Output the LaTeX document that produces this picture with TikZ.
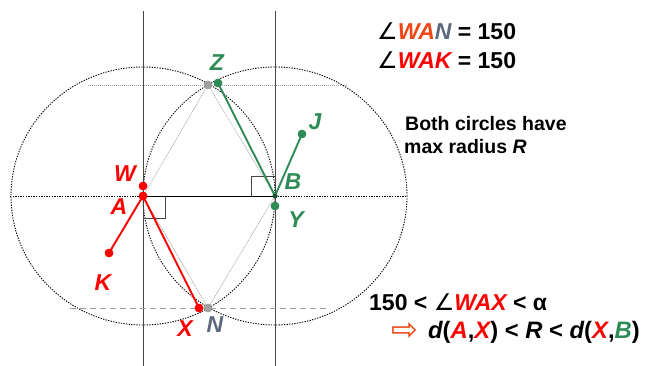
\documentclass[tikz,border=0pt]{standalone}
\usepackage{fontspec}
\setmainfont{Liberation Sans}
\newfontfamily\symf{DejaVu Sans}
\definecolor{grn}{RGB}{46,139,87}
\definecolor{rd}{RGB}{255,0,0}
\definecolor{orr}{RGB}{240,70,20}
\definecolor{slate}{RGB}{95,105,125}
\definecolor{ptgray}{RGB}{160,160,160}
\definecolor{vl}{RGB}{70,70,70}
\tikzset{
  circ/.style={draw=black, line width=0.9pt, dash pattern=on 1.3pt off 1.3pt},
  guide/.style={draw=gray!75, line width=0.9pt, dash pattern=on 1pt off 1pt},
  axisdot/.style={draw=black, line width=0.8pt, dash pattern=on 1.3pt off 1.3pt},
  vline/.style={draw=vl, line width=0.9pt},
  rmark/.style={draw=vl, line width=0.9pt},
  pt/.style={circle, fill=#1, inner sep=0pt, minimum size=8.5pt},
  smallpt/.style={circle, fill=#1, inner sep=0pt, minimum size=5pt},
  seg/.style={draw=#1, line width=1.9pt},
  lbl/.style={inner sep=0pt, font=\fontsize{23}{25}\selectfont\bfseries\itshape},
  bigtxt/.style={inner sep=0pt, anchor=base west, font=\fontsize{23}{26}\selectfont\bfseries},
  midtxt/.style={inner sep=0pt, anchor=base west, font=\fontsize{19.5}{22}\selectfont\bfseries},
}
\begin{document}
\begin{tikzpicture}[x=1pt,y=-1pt]
\useasboundingbox (0,0) rectangle (645,366);
% centres and points
\node[pt=rd] (A) at (143,196) {};
\node[pt=rd] (W) at (143,186) {};
\node[pt=rd] (K) at (109,253) {};
\node[pt=rd] (X) at (199,308) {};
\node[smallpt=grn!60!black] (B) at (275,196) {};
\node[pt=grn] (Y) at (275,206) {};
\node[pt=grn] (J) at (302,134) {};
\node[pt=grn] (Zp) at (218,83) {};
\node[pt=ptgray] (Zg) at (208,85) {};
\node[pt=ptgray] (Ng) at (208,308) {};
% free ends
\coordinate (v1t) at (143,11); \coordinate (v1b) at (143,366);
\coordinate (v2t) at (275,11); \coordinate (v2b) at (275,366);
\coordinate (hL) at (10,196); \coordinate (hR) at (407,196);
\coordinate (tL) at (88,85);  \coordinate (tR) at (348,85);
\coordinate (bL) at (70,308); \coordinate (bR) at (330,308);
% circles
\draw[circ] (A.center) ellipse [x radius=132pt, y radius=129pt];
\draw[circ] (B.center) ellipse [x radius=132pt, y radius=129pt];
% verticals
\draw[vline] (v1t) -- (v1b);
\draw[vline] (v2t) -- (v2b);
% horizontals
\draw[axisdot] (hL) -- (A.center);
\draw[draw=black, line width=0.8pt] (A.center) -- (B.center);
\draw[axisdot] (B.center) -- (hR);
\draw[guide] (tL) -- (tR);
\draw[draw=gray!75, line width=0.9pt, dash pattern=on 6pt off 4pt] (bL) -- (bR);
% rhombus
\draw[guide, draw=gray!60] (Zg.center) -- (A.center) (Zg.center) -- (B.center)
      (Ng.center) -- (A.center) (Ng.center) -- (B.center);
% right angle marks
\draw[rmark] ([yshift=-22pt]A.center) -| ([xshift=22pt]A.center);
\draw[rmark] ([xshift=-24pt]B.center) |- ([yshift=20pt]B.center);
% segments
\draw[seg=rd] (A.center) -- (K.center);
\draw[seg=rd] (A.center) -- (X.center);
\draw[seg=grn] (B.center) -- (Zp.center);
\draw[seg=grn] (B.center) -- (J.center);
% redraw points on top
\node[pt=rd] at (A) {}; \node[pt=rd] at (W) {}; \node[pt=rd] at (K) {}; \node[pt=rd] at (X) {};
\node[pt=grn] at (Y) {}; \node[pt=grn] at (J) {}; \node[pt=grn] at (Zp) {};
\node[pt=ptgray] at (Zg) {}; \node[pt=ptgray] at (Ng) {};
\node[smallpt=grn!60!black] at (B) {};
% point labels
\node[lbl, text=grn] (lZ) at (217,63) {Z};
\node[lbl, text=grn] (lJ) at (315,122) {J};
\node[lbl, text=rd] (lW) at (125,174) {W};
\node[lbl, text=rd] (lA) at (119,207) {A};
\node[lbl, text=grn] (lB) at (293,182) {B};
\node[lbl, text=grn] (lY) at (296,220) {Y};
\node[lbl, text=rd] (lK) at (103,283) {K};
\node[lbl, text=rd] (lX) at (185,329) {X};
\node[lbl, text=slate] (lN) at (215,325) {N};
% texts
\node[bigtxt] (t1) at (377,40) {{\symf\mdseries ∠}{\itshape\color{orr}WA}{\itshape\color{slate}N} = 150};
\node[bigtxt] (t2) at (377,69) {{\symf\mdseries ∠}{\itshape\color{rd}WAK} = 150};
\node[midtxt] (t3) at (405,131) {Both circles have};
\node[midtxt] (t4) at (404,154) {max radius \itshape R};
\node[bigtxt] (t5) at (369,310) {150 < {\symf\mdseries ∠}{\itshape\color{rd}WAX} < α};
\node[inner sep=0pt, anchor=base west, font=\fontsize{32}{34}\selectfont\symf, text=orr] (arr) at (391,340) {⇨};
\node[bigtxt, font=\fontsize{23.8}{26}\selectfont\bfseries] (t6) at (428,338) {{\itshape d}({\itshape\color{rd}A},{\itshape\color{rd}X}) < {\itshape R} < {\itshape d}({\itshape\color{rd}X},{\itshape\color{grn}B})};
\end{tikzpicture}
\end{document}
